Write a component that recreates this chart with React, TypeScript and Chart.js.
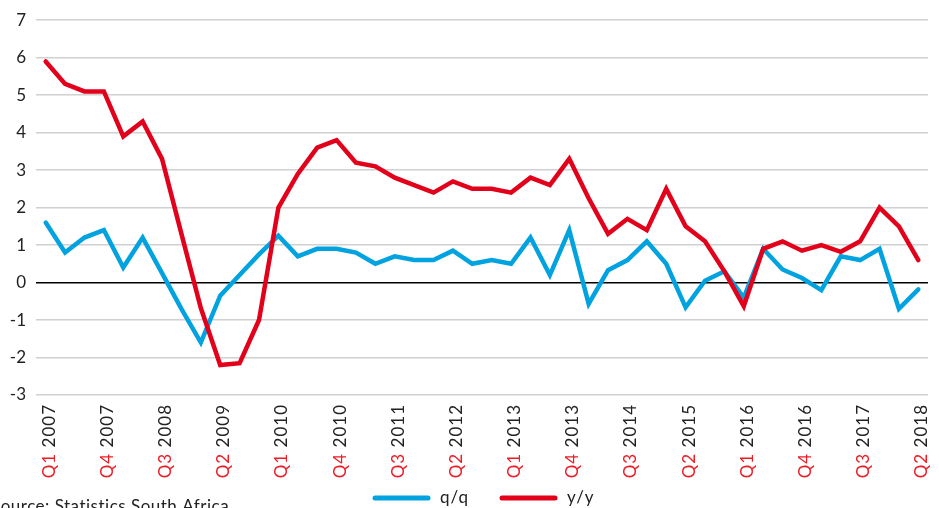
import React, { useEffect, useRef } from "react";
import { Chart, registerables } from "chart.js";

Chart.register(...registerables);

const quarters: string[] = [
  "Q1 2007", "Q2 2007", "Q3 2007", "Q4 2007",
  "Q1 2008", "Q2 2008", "Q3 2008", "Q4 2008",
  "Q1 2009", "Q2 2009", "Q3 2009", "Q4 2009",
  "Q1 2010", "Q2 2010", "Q3 2010", "Q4 2010",
  "Q1 2011", "Q2 2011", "Q3 2011", "Q4 2011",
  "Q1 2012", "Q2 2012", "Q3 2012", "Q4 2012",
  "Q1 2013", "Q2 2013", "Q3 2013", "Q4 2013",
  "Q1 2014", "Q2 2014", "Q3 2014", "Q4 2014",
  "Q1 2015", "Q2 2015", "Q3 2015", "Q4 2015",
  "Q1 2016", "Q2 2016", "Q3 2016", "Q4 2016",
  "Q1 2017", "Q2 2017", "Q3 2017", "Q4 2017",
  "Q1 2018", "Q2 2018",
];

const qoq: number[] = [
  1.6, 0.8, 1.2, 1.4, 0.4, 1.2, 0.25, -0.7, -1.6, -0.35, 0.2, 0.75,
  1.25, 0.7, 0.9, 0.9, 0.8, 0.5, 0.7, 0.6, 0.6, 0.85, 0.5, 0.6,
  0.5, 1.2, 0.2, 1.4, -0.57, 0.33, 0.6, 1.1, 0.5, -0.66, 0.05, 0.3,
  -0.4, 0.9, 0.35, 0.12, -0.2, 0.7, 0.6, 0.9, -0.7, -0.18,
];

const yoy: number[] = [
  5.9, 5.3, 5.1, 5.1, 3.9, 4.3, 3.3, 1.3, -0.68, -2.2, -2.15, -1.0,
  2.0, 2.9, 3.6, 3.8, 3.2, 3.1, 2.8, 2.6, 2.4, 2.7, 2.5, 2.5,
  2.4, 2.8, 2.6, 3.3, 2.25, 1.3, 1.7, 1.4, 2.5, 1.5, 1.1, 0.3,
  -0.63, 0.9, 1.1, 0.85, 1.0, 0.82, 1.1, 2.0, 1.5, 0.6,
];

const seriesNames: string[] = ["q/q", "y/y"];
const yMin = -3;
const yMax = 7;
const labelEvery = 3;
const sourceText = "Source: Statistics South Africa";

const BLUE = "#00A3E0";
const RED = "#E2001A";
const LABEL_RED = "#EE1C25";
const TEXT = "#222222";
const FONT = "Lato, 'Open Sans', sans-serif";

const overlayPlugin = {
  id: "overlay",
  afterDraw(chart: any) {
    const ctx = chart.ctx as any;
    const xs = chart.scales.x;
    ctx.save();
    // x-axis labels (rotated, two-colour)
    ctx.font = `17px ${FONT}`;
    ctx.letterSpacing = "1px";
    ctx.textAlign = "left";
    ctx.textBaseline = "alphabetic";
    for (let i = 0; i < quarters.length; i += labelEvery) {
      const x = xs.getPixelForValue(i);
      const [q, yr] = quarters[i].split(" ");
      const full = ctx.measureText(q + " " + yr).width;
      const qw = ctx.measureText(q + " ").width;
      ctx.save();
      ctx.translate(x + 9, 404);
      ctx.rotate(-Math.PI / 2);
      ctx.fillStyle = LABEL_RED;
      ctx.fillText(q, -full, 0);
      ctx.fillStyle = TEXT;
      ctx.fillText(yr, -full + qw, 0);
      ctx.restore();
    }
    // legend
    const ly = 498;
    const items = [
      { name: seriesNames[0], color: BLUE, x0: 375, x1: 428, tx: 440 },
      { name: seriesNames[1], color: RED, x0: 502, x1: 555, tx: 567 },
    ];
    ctx.letterSpacing = "1px";
    ctx.lineCap = "round";
    ctx.lineWidth = 5;
    ctx.font = `17px ${FONT}`;
    ctx.textAlign = "left";
    for (const it of items) {
      ctx.strokeStyle = it.color;
      ctx.beginPath();
      ctx.moveTo(it.x0, ly);
      ctx.lineTo(it.x1, ly);
      ctx.stroke();
      ctx.fillStyle = TEXT;
      ctx.fillText(it.name, it.tx, 503);
    }
    // source
    ctx.letterSpacing = "0.5px";
    ctx.fillStyle = TEXT;
    ctx.fillText(sourceText, -9, 512);
    ctx.restore();
  },
};

export default function App() {
  const ref = useRef<HTMLCanvasElement | null>(null);

  useEffect(() => {
    if (!ref.current) return;
    const chart = new Chart(ref.current, {
      type: "line",
      data: {
        labels: quarters,
        datasets: [
          {
            label: seriesNames[0],
            data: qoq,
            borderColor: BLUE,
            backgroundColor: BLUE,
            borderWidth: 4.5,
            pointRadius: 0,
            borderCapStyle: "round",
            tension: 0,
            order: 1,
          },
          {
            label: seriesNames[1],
            data: yoy,
            borderColor: RED,
            backgroundColor: RED,
            borderWidth: 4.5,
            pointRadius: 0,
            borderCapStyle: "round",
            tension: 0,
            order: 0,
          },
        ],
      },
      options: {
        responsive: false,
        animation: false,
        devicePixelRatio: 1,
        layout: { padding: { top: 17, right: 11, left: 0, bottom: 0 } },
        plugins: {
          legend: { display: false },
          tooltip: { enabled: false },
        },
        scales: {
          x: {
            type: "category",
            offset: true,
            grid: { display: false },
            border: { display: false },
            ticks: { display: false },
            afterFit: (s: any) => {
              s.height = 113;
            },
          },
          y: {
            min: yMin,
            max: yMax,
            ticks: {
              stepSize: 1,
              padding: 10,
              color: TEXT,
              font: { family: FONT, size: 17 },
            },
            grid: {
              drawTicks: false,
              lineWidth: 1.5,
              color: (c: any) => (c.tick && c.tick.value === 0 ? "#000000" : "#d0d0d0"),
            },
            border: { display: false },
            afterFit: (s: any) => {
              s.width = 36;
            },
          },
        },
      },
      plugins: [overlayPlugin],
    });
    return () => chart.destroy();
  }, []);

  return (
    <div style={{ position: "absolute", left: 0, top: 0, width: 939, height: 508, background: "#fff" }}>
      <canvas ref={ref} width={939} height={508} />
    </div>
  );
}
